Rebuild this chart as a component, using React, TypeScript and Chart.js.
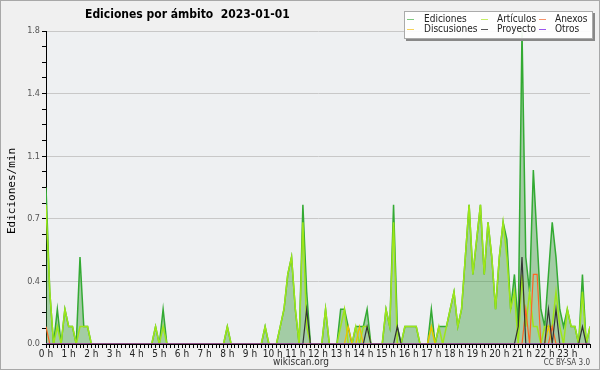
import React, { useEffect, useRef } from 'react';
import { Chart, registerables } from 'chart.js';

Chart.register(...registerables);

// 10-minute bins, 0..144 (00:00 .. 24:00), values in edits per minute
const ediciones = [
  0.9, 0.3, 0, 0.2, 0, 0.2, 0.1, 0.1, 0, 0.5, 0.1, 0.1,
  0, 0, 0, 0, 0, 0, 0, 0, 0, 0, 0, 0,
  0, 0, 0, 0, 0, 0.1, 0, 0.2, 0, 0, 0, 0,
  0, 0, 0, 0, 0, 0, 0, 0, 0, 0, 0, 0,
  0.1, 0, 0, 0, 0, 0, 0, 0, 0, 0, 0.1, 0,
  0, 0, 0.1, 0.2, 0.4, 0.5, 0.2, 0, 0.8, 0.3, 0, 0,
  0, 0, 0.2, 0, 0, 0, 0.2, 0.2, 0.1, 0, 0.1, 0.1,
  0.1, 0.2, 0, 0, 0, 0, 0.2, 0.1, 0.8, 0.1, 0, 0.1,
  0.1, 0.1, 0.1, 0, 0, 0, 0.2, 0, 0.1, 0.1, 0.1, 0.2,
  0.3, 0.1, 0.2, 0.5, 0.8, 0.4, 0.6, 0.8, 0.4, 0.7, 0.5, 0.2,
  0.5, 0.7, 0.6, 0.2, 0.4, 0.1, 1.8, 0.5, 0.3, 1.0, 0.6, 0.2,
  0.1, 0.4, 0.7, 0.5, 0.2, 0.1, 0.2, 0.1, 0.1, 0, 0.4, 0,
  0.1,
];

const articulos = [
  0.8, 0.3, 0, 0.1, 0, 0.2, 0.1, 0.1, 0, 0.1, 0.1, 0.1,
  0, 0, 0, 0, 0, 0, 0, 0, 0, 0, 0, 0,
  0, 0, 0, 0, 0, 0.1, 0, 0.1, 0, 0, 0, 0,
  0, 0, 0, 0, 0, 0, 0, 0, 0, 0, 0, 0,
  0.1, 0, 0, 0, 0, 0, 0, 0, 0, 0, 0.1, 0,
  0, 0, 0.1, 0.2, 0.4, 0.5, 0.2, 0, 0.7, 0.1, 0, 0,
  0, 0, 0.2, 0, 0, 0, 0.1, 0.2, 0, 0, 0.1, 0,
  0.1, 0.1, 0, 0, 0, 0, 0.2, 0.1, 0.7, 0, 0, 0.1,
  0.1, 0.1, 0.1, 0, 0, 0, 0.1, 0, 0.1, 0, 0.1, 0.2,
  0.3, 0.1, 0.2, 0.5, 0.8, 0.4, 0.6, 0.8, 0.4, 0.7, 0.5, 0.2,
  0.5, 0.7, 0.5, 0.2, 0.3, 0, 0.4, 0.1, 0.3, 0.1, 0.1, 0,
  0.1, 0.1, 0.1, 0.3, 0.1, 0, 0.2, 0.1, 0.1, 0, 0.3, 0,
  0.1,
];

const anexos = [
  0.1, 0, 0, 0, 0, 0, 0, 0, 0, 0, 0, 0,
  0, 0, 0, 0, 0, 0, 0, 0, 0, 0, 0, 0,
  0, 0, 0, 0, 0, 0, 0, 0, 0, 0, 0, 0,
  0, 0, 0, 0, 0, 0, 0, 0, 0, 0, 0, 0,
  0, 0, 0, 0, 0, 0, 0, 0, 0, 0, 0, 0,
  0, 0, 0, 0, 0, 0, 0, 0, 0, 0, 0, 0,
  0, 0, 0, 0, 0, 0, 0, 0, 0, 0, 0, 0,
  0, 0, 0, 0, 0, 0, 0, 0, 0, 0, 0, 0,
  0, 0, 0, 0, 0, 0, 0, 0, 0, 0, 0, 0,
  0, 0, 0, 0, 0, 0, 0, 0, 0, 0, 0, 0,
  0, 0, 0, 0, 0, 0, 0, 0.2, 0, 0.4, 0.4, 0,
  0, 0, 0.1, 0, 0, 0, 0, 0, 0, 0, 0, 0,
  0,
];

const discusiones = [
  0, 0, 0, 0, 0, 0, 0, 0, 0, 0, 0, 0,
  0, 0, 0, 0, 0, 0, 0, 0, 0, 0, 0, 0,
  0, 0, 0, 0, 0, 0, 0, 0, 0, 0, 0, 0,
  0, 0, 0, 0, 0, 0, 0, 0, 0, 0, 0, 0,
  0, 0, 0, 0, 0, 0, 0, 0, 0, 0, 0, 0,
  0, 0, 0, 0, 0, 0, 0, 0, 0, 0, 0, 0,
  0, 0, 0, 0, 0, 0, 0, 0, 0.1, 0, 0, 0.1,
  0, 0, 0, 0, 0, 0, 0, 0, 0, 0, 0, 0,
  0, 0, 0, 0, 0, 0, 0.1, 0, 0, 0, 0, 0,
  0, 0, 0, 0, 0, 0, 0, 0, 0, 0, 0, 0,
  0, 0, 0, 0, 0, 0, 0, 0, 0, 0, 0, 0,
  0, 0.1, 0, 0, 0, 0, 0, 0, 0, 0, 0, 0,
  0,
];

const proyecto = [
  0, 0, 0, 0, 0, 0, 0, 0, 0, 0, 0, 0,
  0, 0, 0, 0, 0, 0, 0, 0, 0, 0, 0, 0,
  0, 0, 0, 0, 0, 0, 0, 0, 0, 0, 0, 0,
  0, 0, 0, 0, 0, 0, 0, 0, 0, 0, 0, 0,
  0, 0, 0, 0, 0, 0, 0, 0, 0, 0, 0, 0,
  0, 0, 0, 0, 0, 0, 0, 0, 0, 0.2, 0, 0,
  0, 0, 0, 0, 0, 0, 0, 0, 0, 0, 0, 0,
  0, 0.1, 0, 0, 0, 0, 0, 0, 0, 0.1, 0, 0,
  0, 0, 0, 0, 0, 0, 0, 0, 0, 0, 0, 0,
  0, 0, 0, 0, 0, 0, 0, 0, 0, 0, 0, 0,
  0, 0, 0, 0, 0, 0.1, 0.5, 0, 0, 0, 0, 0,
  0, 0.2, 0, 0.2, 0, 0, 0, 0, 0, 0, 0.1, 0,
  0,
];

const otros = [
  0, 0, 0, 0, 0, 0, 0, 0, 0, 0, 0, 0,
  0, 0, 0, 0, 0, 0, 0, 0, 0, 0, 0, 0,
  0, 0, 0, 0, 0, 0, 0, 0, 0, 0, 0, 0,
  0, 0, 0, 0, 0, 0, 0, 0, 0, 0, 0, 0,
  0, 0, 0, 0, 0, 0, 0, 0, 0, 0, 0, 0,
  0, 0, 0, 0, 0, 0, 0, 0, 0, 0, 0, 0,
  0, 0, 0, 0, 0, 0, 0, 0, 0, 0, 0, 0,
  0, 0, 0, 0, 0, 0, 0, 0, 0, 0, 0, 0,
  0, 0, 0, 0, 0, 0, 0, 0, 0, 0, 0, 0,
  0, 0, 0, 0, 0, 0, 0, 0, 0, 0, 0, 0,
  0, 0, 0, 0, 0, 0, 0, 0, 0, 0, 0, 0,
  0, 0, 0, 0, 0, 0, 0, 0, 0, 0, 0, 0,
  0,
];

const hourLabels = [
  '0 h', '1 h', '2 h', '3 h', '4 h', '5 h', '6 h', '7 h', '8 h', '9 h', '10 h', '11 h',
  '12 h', '13 h', '14 h', '15 h', '16 h', '17 h', '18 h', '19 h', '20 h', '21 h', '22 h', '23 h',
];

const TITLE = 'Ediciones por ámbito  2023-01-01';
const Y_TITLE = 'Ediciones/min';

const seriesNames = ['Ediciones', 'Artículos', 'Anexos', 'Discusiones', 'Proyecto', 'Otros'];
const seriesColors = ['#33aa33', '#9ee619', '#ff6622', '#f0c000', '#333333', '#9933ee'];
const legendColors = ['#7fc97f', '#c4ee66', '#f7936a', '#f7d35a', '#555555', '#9b55ee'];

const toXY = (arr: number[]) => arr.map((v, i) => ({ x: i, y: v }));

const FONT = '"DejaVu Sans Condensed", "Liberation Sans Narrow", "Liberation Sans", sans-serif';

const decor = {
  id: 'decor',
  beforeDraw(chart: any) {
    const { ctx, chartArea: a } = chart;
    ctx.save();
    ctx.fillStyle = '#f0f0f0';
    ctx.fillRect(0, 0, chart.width, chart.height);
    ctx.fillStyle = '#eef0f2';
    ctx.fillRect(a.left, a.top, a.right - a.left, a.bottom - a.top);
    ctx.restore();
  },
  afterDraw(chart: any) {
    const { ctx } = chart;
    ctx.save();
    ctx.strokeStyle = '#a8a8a8';
    ctx.lineWidth = 1;
    ctx.strokeRect(0.5, 0.5, chart.width - 1, chart.height - 1);

    ctx.fillStyle = '#000';
    ctx.font = 'bold 12px ' + FONT;
    ctx.textAlign = 'left';
    ctx.textBaseline = 'alphabetic';
    ctx.fillText(TITLE, 85, 18);

    ctx.save();
    ctx.translate(15, 191);
    ctx.rotate(-Math.PI / 2);
    ctx.textAlign = 'center';
    ctx.font = '11px "DejaVu Sans Mono", monospace';
    ctx.fillStyle = '#000';
    ctx.fillText(Y_TITLE, 0, 0);
    ctx.restore();

    ctx.fillStyle = '#333';
    ctx.font = '10px ' + FONT;
    ctx.textAlign = 'center';
    ctx.fillText('wikiscan.org', 301, 365);
    ctx.font = '8px ' + FONT;
    ctx.textAlign = 'right';
    ctx.fillStyle = '#444';
    ctx.fillText('CC BY-SA 3.0', 590, 365);

    const bx = 404, by = 11, bw = 189, bh = 28;
    ctx.fillStyle = '#888';
    ctx.fillRect(bx + 2, by + bh, bw, 2);
    ctx.fillRect(bx + bw, by + 2, 2, bh);
    ctx.fillStyle = 'rgba(255,255,255,0.92)';
    ctx.fillRect(bx, by, bw, bh);
    ctx.strokeStyle = '#aaa';
    ctx.strokeRect(bx + 0.5, by + 0.5, bw - 1, bh - 1);
    const cols = [407, 481, 539];
    const textX = [424, 497, 555];
    const rows = [19, 29];
    ctx.font = '10px ' + FONT;
    ctx.textAlign = 'left';
    ctx.textBaseline = 'middle';
    seriesNames.forEach((name, k) => {
      const c = k % 3, r = Math.floor(k / 3);
      ctx.strokeStyle = legendColors[k];
      ctx.lineWidth = 1;
      ctx.beginPath();
      ctx.moveTo(cols[c], rows[r] + 0.5);
      ctx.lineTo(cols[c] + 7, rows[r] + 0.5);
      ctx.stroke();
      ctx.fillStyle = '#222';
      ctx.fillText(name, textX[c], rows[r]);
    });
    ctx.restore();
  },
};

export default function App() {
  const ref = useRef<HTMLCanvasElement | null>(null);
  useEffect(() => {
    if (!ref.current) return;
    const data = [ediciones, articulos, anexos, discusiones, proyecto, otros];
    const datasets = data.map((arr, k) => ({
      label: seriesNames[k],
      data: toXY(arr),
      borderColor: seriesColors[k],
      backgroundColor: k === 0 ? 'rgba(50,150,50,0.4)' : seriesColors[k],
      borderWidth: k < 2 ? 1.5 : 1.2,
      fill: k === 0 ? 'origin' : false,
      pointRadius: 0,
      tension: 0,
      order: 6 - k,
    }));
    const chart = new Chart(ref.current, {
      type: 'line',
      data: { datasets },
      options: {
        animation: false,
        responsive: false,
        devicePixelRatio: 1,
        layout: { padding: { top: 31, right: 10, left: 0, bottom: 0 } },
        plugins: { legend: { display: false }, tooltip: { enabled: false }, title: { display: false } },
        scales: {
          x: {
            type: 'linear',
            min: 0,
            max: 144,
            afterFit: (s: any) => { s.height = 26; },
            border: { color: '#000', width: 1 },
            grid: { drawOnChartArea: false, tickColor: '#000', tickLength: 4 },
            ticks: {
              stepSize: 1,
              maxTicksLimit: 1000,
              autoSkip: false,
              maxRotation: 0,
              minRotation: 0,
              padding: 0,
              color: '#222',
              font: { family: FONT, size: 10 },
              callback: (v: any) => (v % 6 === 0 && v < 144 ? hourLabels[v / 6] : ''),
            },
          },
          y: {
            min: 0,
            max: 1.8,
            afterFit: (s: any) => { s.width = 46; },
            border: { color: '#000', width: 1 },
            grid: {
              color: (c: any) => (c.index % 4 === 0 ? '#c8c8c8' : 'rgba(0,0,0,0)'),
              tickColor: '#000',
              tickLength: 4,
            },
            ticks: {
              stepSize: 0.09,
              maxTicksLimit: 1000,
              autoSkip: false,
              padding: 2,
              color: '#555',
              font: { family: FONT, size: 9 },
              callback: (v: any, i: number) => (i % 4 === 0 ? Number(v).toFixed(1) : ''),
            },
          },
        },
      },
      plugins: [decor],
    } as any);
    return () => chart.destroy();
  }, []);
  return (
    <div style={{ position: 'fixed', left: 0, top: 0, width: 600, height: 370 }}>
      <canvas ref={ref} width={600} height={370} style={{ display: 'block' }} />
    </div>
  );
}
